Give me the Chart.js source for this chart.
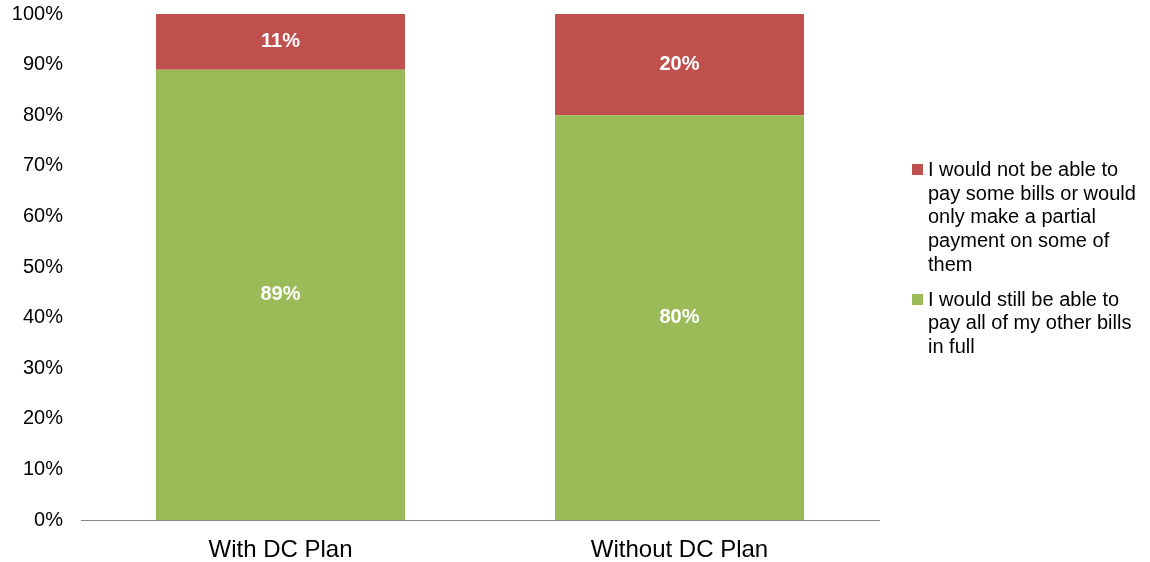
<!DOCTYPE html>
<html>
<head>
<meta charset="utf-8">
<script src="https://cdn.jsdelivr.net/npm/chart.js@4"></script>
<style>
  body { margin: 0; background: #fff; }
  #wrap { position: relative; width: 1150px; height: 562px; }
  #legend {
    position: absolute; left: 912px; top: 158px; width: 240px;
    font-family: "Liberation Sans", Arial, sans-serif; font-size: 20px;
    line-height: 23.7px; color: #000;
  }
  #legend .item { position: relative; padding-left: 16px; width: 222px; margin-bottom: 11px; }
  #legend .box { position: absolute; left: 0; top: 6px; width: 11px; height: 11px; }
</style>
</head>
<body>
<div id="wrap">
  <canvas id="chart"></canvas>
  <div id="legend"></div>
</div>
<script>
var categories = ['With DC Plan', 'Without DC Plan'];
var ableToPay = [89, 80];
var notAbleToPay = [11, 20];
var yTicks = [0, 10, 20, 30, 40, 50, 60, 70, 80, 90, 100];

var labelAble = 'I would still be able to pay all of my other bills in full';
var labelNotAble = 'I would not be able to pay some bills or would only make a partial payment on some of them';

var FONT = '"Liberation Sans", Arial, sans-serif';

var barLabels = {
  id: 'barLabels',
  afterDatasetsDraw: function (chart) {
    var ctx = chart.ctx;
    ctx.save();
    ctx.fillStyle = '#fff';
    ctx.font = 'bold 20px ' + FONT;
    ctx.textAlign = 'center';
    ctx.textBaseline = 'middle';
    chart.data.datasets.forEach(function (ds, i) {
      chart.getDatasetMeta(i).data.forEach(function (bar, j) {
        ctx.fillText(ds.data[j] + '%', bar.x, (bar.y + bar.base) / 2);
      });
    });
    ctx.restore();
  }
};

var chart = new Chart(document.getElementById('chart'), {
  type: 'bar',
  data: {
    labels: categories,
    datasets: [
      { label: labelAble, data: ableToPay, backgroundColor: '#9BBB59' },
      { label: labelNotAble, data: notAbleToPay, backgroundColor: '#C0504D' }
    ]
  },
  options: {
    responsive: true,
    maintainAspectRatio: false,
    animation: false,
    layout: { padding: { top: 14, right: 271, left: 0, bottom: 0 } },
    datasets: { bar: { barPercentage: 0.624, categoryPercentage: 1 } },
    scales: {
      x: {
        stacked: true,
        grid: { display: false, drawTicks: false },
        border: { display: true, color: '#898989', width: 1 },
        ticks: { color: '#000', padding: 16, maxRotation: 0, font: { family: FONT, size: 24 } },
        afterFit: function (s) { s.height = 42; s.paddingTop = 0; s.paddingBottom = 0; }
      },
      y: {
        stacked: true,
        min: 0,
        max: 100,
        grid: { display: false, drawTicks: false },
        border: { display: false },
        afterBuildTicks: function (s) { s.ticks = yTicks.map(function (v) { return { value: v }; }); },
        ticks: {
          color: '#000', padding: 18, font: { family: FONT, size: 20 },
          callback: function (v) { return v + '%'; }
        },
        afterFit: function (s) { s.width = 81; s.paddingTop = 0; s.paddingBottom = 0; }
      }
    },
    plugins: {
      legend: { display: false },
      tooltip: { enabled: false }
    }
  },
  plugins: [barLabels]
});

// legend in reverse order (top segment first)
var legend = document.getElementById('legend');
chart.data.datasets.slice().reverse().forEach(function (ds) {
  var item = document.createElement('div');
  item.className = 'item';
  var box = document.createElement('span');
  box.className = 'box';
  box.style.background = ds.backgroundColor;
  item.appendChild(box);
  item.appendChild(document.createTextNode(ds.label));
  legend.appendChild(item);
});
</script>
</body>
</html>
